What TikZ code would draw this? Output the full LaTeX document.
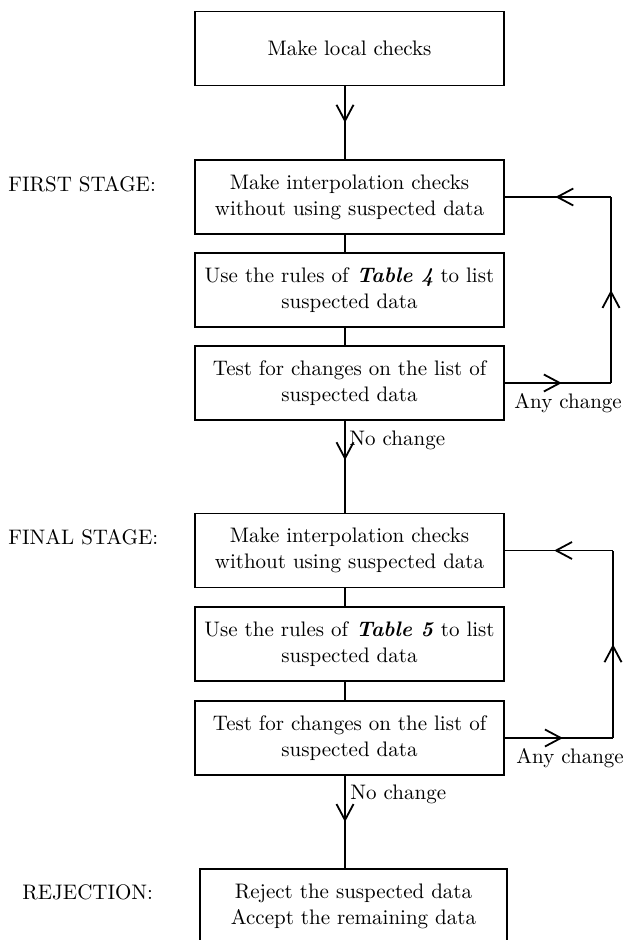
\documentclass[tikz,border=0pt]{standalone}
\usetikzlibrary{arrows.meta,decorations.markings}
\begin{document}
\begin{tikzpicture}[x=0.5pt,y=-0.5pt,
  txt/.style={font=\fontsize{10.5}{13}\selectfont},
  stepbox/.style={txt,draw,line width=0.9pt,inner sep=0pt,outer sep=0pt,align=center,
    minimum width=154.5pt,minimum height=37pt},
  lbl/.style={txt,inner sep=0pt,anchor=west},
  conn/.style={line width=0.9pt},
  arrowat/.style={conn,postaction={decorate},decoration={markings,
    mark=at position #1 with {\arrow{Straight Barb[length=8pt,width=8.5pt,line width=0.9pt]}}}}]
\useasboundingbox (0,0) rectangle (632,940);
\clip (0,0) rectangle (632,940);
\coordinate (lx) at (345,0);

% boxes
\node[stepbox] (b1) at (349.5,48.5) {Make local checks};
\node[stepbox] (b2) at (349.5,197) {Make interpolation checks\\without using suspected data};
\node[stepbox] (b3) at (349.5,290) {Use the rules of \textbf{\textit{Table 4}} to list\\suspected data};
\node[stepbox] (b4) at (349.5,383) {Test for changes on the list of\\suspected data};
\node[stepbox] (b5) at (349.5,550.5) {Make interpolation checks\\without using suspected data};
\node[stepbox] (b6) at (349.5,644) {Use the rules of \textbf{\textit{Table 5}} to list\\suspected data};
\node[stepbox] (b7) at (349.5,738) {Test for changes on the list of\\suspected data};
\node[stepbox,minimum width=153.5pt] (b8) at (353.5,906) {Reject the suspected data\\Accept the remaining data};

% stage labels
\node[lbl] (s1) at (8,184) {FIRST STAGE:};
\node[lbl] (s2) at (8,537) {FINAL STAGE:};
\node[lbl] (s3) at (22,892) {REJECTION:};

% vertical connectors
\draw[arrowat=0.5] (b1.south -| lx) -- (b2.north -| lx);
\draw[conn] (b2.south -| lx) -- (b3.north -| lx);
\draw[conn] (b3.south -| lx) -- (b4.north -| lx);
\draw[arrowat=0.43] (b4.south -| lx) -- (b5.north -| lx);
\draw[conn] (b5.south -| lx) -- (b6.north -| lx);
\draw[conn] (b6.south -| lx) -- (b7.north -| lx);
\draw[arrowat=0.5] (b7.south -| lx) -- (b8.north -| lx);

\node[lbl] (n1) at (349,440) {No change};
\node[lbl] (n2) at (350,794) {No change};

% loop 1
\coordinate (l1a) at (611,383);
\coordinate (l1b) at (611,197);
\draw[arrowat=0.54] (b4.east) -- (l1a);
\draw[arrowat=0.5] (l1a) -- (l1b);
\draw[arrowat=0.52] (l1b) -- (b2.east);
\node[lbl] (a1) at (514,403) {Any change};

% loop 2
\coordinate (l2a) at (613,738);
\coordinate (l2b) at (613,550.5);
\draw[arrowat=0.54] (b7.east) -- (l2a);
\draw[arrowat=0.5] (l2a) -- (l2b);
\draw[arrowat=0.54] (l2b) -- (b5.east);
\node[lbl] (a2) at (516,758) {Any change};
\end{tikzpicture}
\end{document}
